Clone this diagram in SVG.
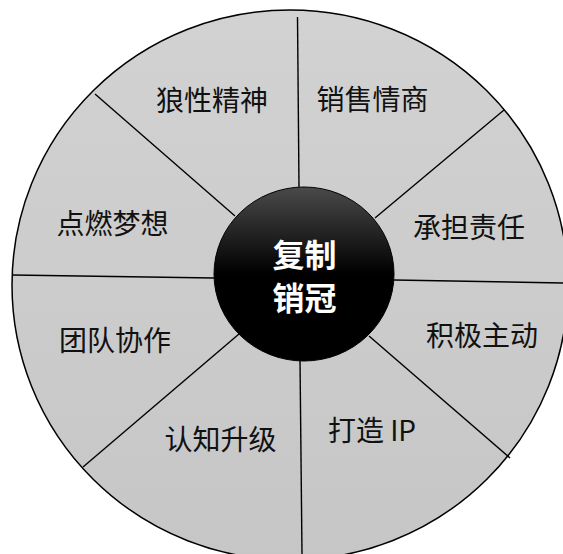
<svg xmlns="http://www.w3.org/2000/svg" width="563" height="554" viewBox="0 0 563 554">
  <defs>
    <linearGradient id="outerFill" x1="0" y1="0" x2="0" y2="1">
      <stop offset="0" stop-color="#d2d2d2"/>
      <stop offset="1" stop-color="#c6c6c6"/>
    </linearGradient>
    <linearGradient id="hubFill" x1="0" y1="0" x2="0" y2="1">
      <stop offset="0" stop-color="#4a4a4a"/>
      <stop offset="0.5" stop-color="#000000"/>
      <stop offset="1" stop-color="#000000"/>
    </linearGradient>
  </defs>
  <style>
    .wheel { fill: url(#outerFill); stroke: #000; stroke-width: 1.5; }
    .spoke { stroke: #000; stroke-width: 1.4; fill: none; }
    .hub { fill: url(#hubFill); stroke: #000; stroke-width: 1; }
    .lbl { font-family: "Noto Sans CJK SC", "Noto Sans", sans-serif; font-size: 28px; fill: #111; text-anchor: middle; }
    .hubtxt { font-family: "Noto Sans CJK SC", "Noto Sans", sans-serif; font-size: 32px; font-weight: bold; fill: #fff; text-anchor: middle; }
  </style>
  <rect width="563" height="554" fill="#ffffff"/>
  <g id="wheel">
    <ellipse class="wheel" cx="290" cy="285" rx="278" ry="275"/>
  </g>
  <g id="connectors">
    <line class="spoke" x1="297.5" y1="17" x2="299" y2="187"/>
    <line class="spoke" x1="300" y1="360" x2="302" y2="554"/>
    <line class="spoke" x1="12" y1="275" x2="214" y2="278"/>
    <line class="spoke" x1="394" y1="280" x2="563" y2="283"/>
    <line class="spoke" x1="95" y1="94" x2="235" y2="216"/>
    <line class="spoke" x1="504" y1="110" x2="375" y2="218"/>
    <line class="spoke" x1="83" y1="467" x2="239" y2="334"/>
    <line class="spoke" x1="510" y1="458" x2="369" y2="336"/>
  </g>
  <g id="n-langxing"><text class="lbl" x="212" y="111">狼性精神</text></g>
  <g id="n-xiaoshou"><text class="lbl" x="372.5" y="110">销售情商</text></g>
  <g id="n-dianran"><text class="lbl" x="112.5" y="234">点燃梦想</text></g>
  <g id="n-chengdan"><text class="lbl" x="469" y="238">承担责任</text></g>
  <g id="n-tuandui"><text class="lbl" x="115" y="351">团队协作</text></g>
  <g id="n-jiji"><text class="lbl" x="482" y="346">积极主动</text></g>
  <g id="n-renzhi"><text class="lbl" x="220.5" y="450">认知升级</text></g>
  <g id="n-dazao"><text class="lbl" x="372" y="441">打造 IP</text></g>
  <g id="hub">
    <ellipse class="hub" cx="304" cy="274" rx="90" ry="87"/>
    <text class="hubtxt" x="304.5" y="267">复制</text>
    <text class="hubtxt" x="304.5" y="310">销冠</text>
  </g>
</svg>
